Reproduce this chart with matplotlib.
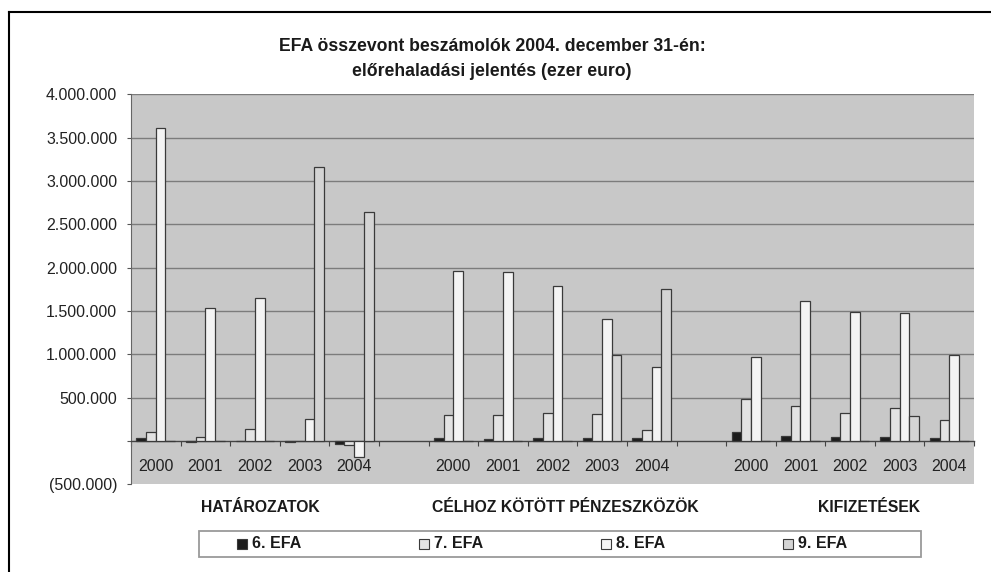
import matplotlib
matplotlib.use("Agg")
import matplotlib.pyplot as plt
import matplotlib.transforms as mtransforms
from matplotlib.patches import Rectangle
from matplotlib.lines import Line2D
from matplotlib.ticker import FuncFormatter

plt.rcParams['font.family'] = ['Liberation Sans', 'DejaVu Sans']

title = "EFA összevont beszámolók 2004. december 31-én:\nelőrehaladási jelentés (ezer euro)"
years = ["2000", "2001", "2002", "2003", "2004"]
groups = ["HATÁROZATOK", "CÉLHOZ KÖTÖTT PÉNZESZKÖZÖK", "KIFIZETÉSEK"]
series = ["6. EFA", "7. EFA", "8. EFA", "9. EFA"]

# values per group (HATÁROZATOK, CÉLHOZ KÖTÖTT..., KIFIZETÉSEK), years 2000-2004
efa6 = [[30000, -15000, 3000, -10000, -30000],
        [35000, 18000, 38000, 38000, 35000],
        [100000, 54000, 42000, 42000, 31000]]
efa7 = [[107000, 42000, 135000, 0, -50000],
        [296000, 296000, 327000, 312000, 123000],
        [481000, 404000, 327000, 385000, 239000]]
efa8 = [[3610000, 1532000, 1648000, 250000, -180000],
        [1966000, 1951000, 1790000, 1405000, 850000],
        [966000, 1610000, 1486000, 1474000, 993000]]
efa9 = [[0, 0, 0, 3160000, 2648000],
        [0, 0, 0, 993000, 1759000],
        [0, 0, 0, 285000, 0]]

colors = ["#1c1c1c", "#e3e3e3", "#f4f4f4", "#d4d4d4"]
edge = "#3a3a3a"

fig = plt.figure(figsize=(9.91, 5.72), dpi=100)
ax = fig.add_axes([0.1322, 0.1533, 0.8507, 0.6817])
ax.set_facecolor("#c8c8c8")

bar_w = 0.195
for s, vals in enumerate([efa6, efa7, efa8, efa9]):
    xs, hs = [], []
    for g, grp in enumerate(vals):
        for i, v in enumerate(grp):
            xs.append(g * 6 + i + (s - 1.5) * bar_w)
            hs.append(v)
    ax.bar(xs, hs, width=bar_w, color=colors[s], edgecolor=edge,
           linewidth=0.9, label=series[s], zorder=3)

ax.set_xlim(-0.5, 16.5)
ax.set_ylim(-500000, 4000000)
yticks = list(range(-500000, 4000001, 500000))
ax.set_yticks(yticks)


def fmt(v, pos):
    v = int(round(v))
    if v == 0:
        return ""
    txt = f"{abs(v):,}".replace(",", ".")
    return f"({txt})" if v < 0 else txt


ax.yaxis.set_major_formatter(FuncFormatter(fmt))
for t in yticks:
    if t > 0:
        ax.axhline(t, color="#7c7c7c", linewidth=1.0, zorder=1)

centers = [g * 6 + i for g in range(len(groups)) for i in range(len(years))]
ax.set_xticks(centers)
ax.set_xticklabels(years * len(groups))
ax.set_xticks([k - 0.5 for k in range(18)], minor=True)
ax.tick_params(axis='x', which='major', length=0, pad=13, labelsize=11.5,
               labelcolor="#222222")
ax.tick_params(axis='x', which='minor', length=3.5, width=0.8, color="#444444",
               direction='out')
ax.tick_params(axis='y', length=3, width=0.8, pad=7, labelsize=11.5,
               color="#555555", labelcolor="#222222")

ax.spines['bottom'].set_position(('data', 0))
ax.spines['bottom'].set_color("#444444")
ax.spines['bottom'].set_linewidth(1.0)
ax.spines['left'].set_color("#666666")
ax.spines['left'].set_linewidth(0.8)
ax.spines['top'].set_visible(False)
ax.spines['right'].set_visible(False)

# group names under the plot area
trans = mtransforms.blended_transform_factory(ax.transData, fig.transFigure)
label_shift = [0.1, 0.25, 0.38]
for g, name in enumerate(groups):
    ax.text(g * 6 + 2 + label_shift[g], 1 - 508 / 572, name, transform=trans,
            ha='center', va='center', fontsize=11.3, fontweight='bold',
            color="#1a1a1a")

fig.text(0.4965, 1 - 59 / 572, title, ha='center', va='center',
         fontsize=12.7, fontweight='bold', linespacing=1.6, color="#1a1a1a")

# legend box
W, H = 991, 572
fig.add_artist(Rectangle((199 / W, 1 - 557 / H), 722 / W, 26 / H,
                         transform=fig.transFigure, facecolor="white",
                         edgecolor="#9a9a9a", linewidth=1.3))
for s, name in enumerate(series):
    mx = 242 + s * 182
    fig.add_artist(Rectangle(((mx - 5) / W, 1 - 549 / H), 10 / W, 10 / H,
                             transform=fig.transFigure, facecolor=colors[s],
                             edgecolor=edge, linewidth=0.8))
    fig.text((mx + 10) / W, 1 - 544 / H, name, ha='left', va='center',
             fontsize=11.5, fontweight='bold', color="#1a1a1a")

# outer frame (top and left edge visible in the crop)
fig.add_artist(Line2D([9 / W, 9 / W], [0, 1 - 11.7 / H], transform=fig.transFigure,
                      color="black", linewidth=1.5))
fig.add_artist(Line2D([9 / W, 1], [1 - 11.7 / H, 1 - 11.7 / H],
                      transform=fig.transFigure, color="black", linewidth=1.5))

fig.savefig("out.png", dpi=100)
